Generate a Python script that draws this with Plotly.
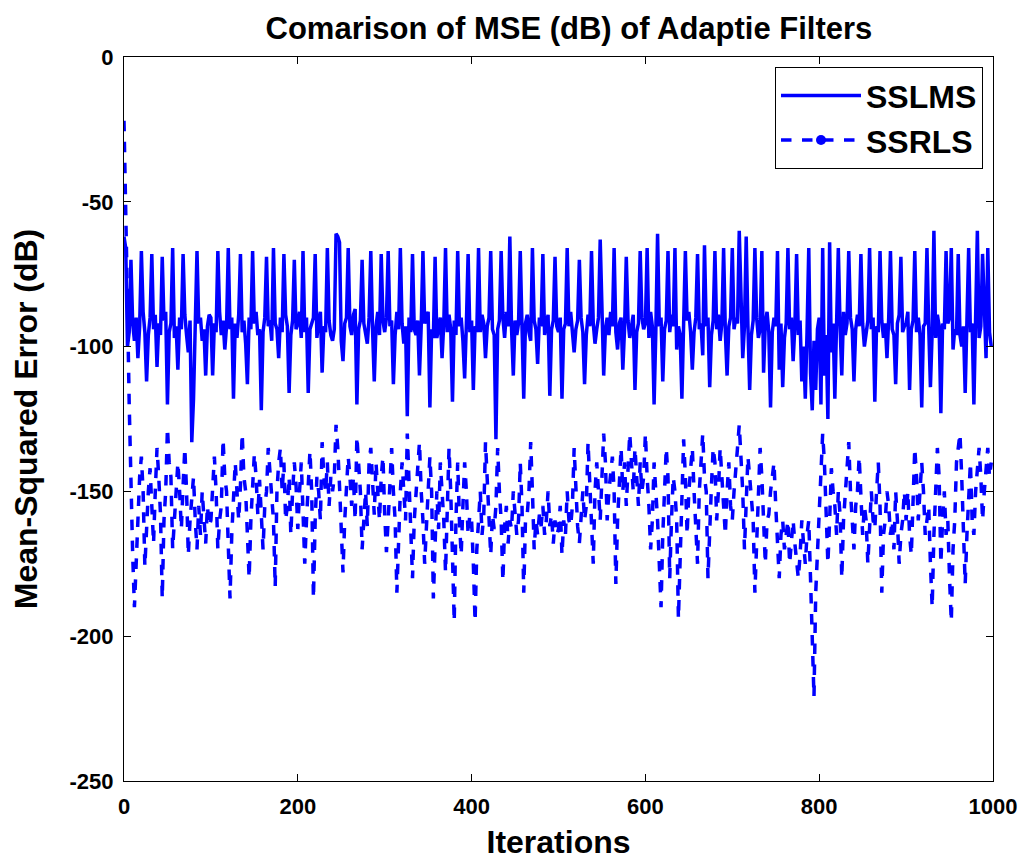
import plotly.graph_objects as go

iterations = list(range(0, 1000, 2))

sslms_db = [
    -62, -66, -100, -95, -70, -92, -98, -90, -104, -93, -67, -88, -95, -112, -96, -90, -68, -94, -89, -107, -92, -96, -69, -91, -88, -120, -95, -92, -66, -97, -93, -108, -90, -94, -68, -89, -96, -102, -91, -133, -118, -95, -67, -92, -90, -98, -94, -110, -93, -89,
    -90, -110, -92, -95, -67, -88, -96, -91, -101, -93, -66, -94, -90, -118, -92, -97, -89, -68, -95, -91, -99, -113, -90, -94, -67, -92, -88, -96, -94, -122, -95, -90, -69, -93, -91, -98, -66, -92, -94, -104, -90, -95, -68, -89, -93, -116, -96, -91, -70, -94,
    -92, -88, -97, -67, -95, -90, -116, -94, -92, -90, -68, -97, -91, -88, -109, -93, -95, -66, -91, -96, -98, -94, -61, -62, -64, -98, -105, -92, -90, -66, -93, -96, -89, -87, -120, -94, -91, -70, -92, -95, -99, -90, -67, -94, -112, -93, -88, -96, -68, -91,
    -95, -90, -67, -93, -91, -113, -96, -88, -94, -66, -92, -99, -93, -124, -90, -95, -68, -94, -96, -91, -110, -93, -67, -92, -90, -88, -121, -94, -97, -69, -97, -93, -90, -104, -92, -66, -95, -89, -94, -119, -91, -96, -67, -93, -90, -98, -111, -92, -68, -95,
    -91, -115, -93, -95, -66, -95, -89, -92, -104, -93, -90, -67, -94, -96, -132, -94, -91, -67, -90, -97, -88, -93, -62, -94, -110, -91, -96, -92, -67, -93, -118, -92, -89, -95, -98, -66, -91, -94, -106, -90, -93, -68, -96, -92, -89, -117, -94, -91, -69, -93,
    -95, -90, -118, -94, -92, -66, -93, -88, -96, -102, -94, -91, -70, -90, -95, -113, -96, -89, -93, -67, -92, -99, -94, -90, -63, -91, -110, -94, -90, -96, -88, -93, -66, -95, -101, -92, -90, -108, -94, -69, -91, -97, -93, -89, -115, -95, -92, -67, -90, -94,
    -92, -66, -97, -88, -93, -120, -95, -61, -93, -90, -112, -94, -91, -67, -95, -89, -93, -66, -101, -93, -96, -118, -92, -67, -91, -88, -95, -108, -95, -90, -68, -94, -92, -103, -65, -93, -90, -114, -96, -91, -67, -94, -89, -98, -92, -66, -95, -110, -93, -90,
    -66, -94, -90, -92, -60, -89, -104, -93, -62, -93, -115, -96, -91, -66, -90, -97, -94, -67, -109, -92, -88, -95, -121, -95, -90, -93, -67, -108, -92, -114, -97, -92, -66, -94, -90, -105, -93, -68, -96, -91, -112, -100, -118, -95, -66, -109, -122, -98, -115, -94,
    -90, -120, -66, -110, -96, -125, -64, -102, -92, -118, -95, -66, -93, -110, -88, -96, -92, -67, -90, -94, -112, -94, -89, -93, -68, -92, -100, -96, -91, -66, -94, -90, -119, -93, -95, -67, -91, -97, -92, -104, -90, -67, -94, -96, -113, -92, -89, -69, -95, -93,
    -92, -88, -115, -94, -91, -67, -95, -90, -96, -121, -93, -92, -66, -93, -114, -95, -60, -97, -89, -93, -123, -92, -94, -67, -92, -90, -66, -101, -94, -96, -68, -96, -100, -93, -116, -91, -66, -95, -92, -120, -94, -60, -97, -93, -68, -90, -104, -66, -95, -100,
]

ssrls_db = [
    -22, -50, -85, -120, -150, -172, -190, -175, -160, -145, -138, -150, -176, -160, -150, -142, -155, -168, -150, -135, -145, -158, -187, -160, -150, -128, -140, -145, -170, -160, -155, -140, -150, -163, -148, -135, -150, -172, -160, -150, -145, -160, -170, -155, -165, -150, -160, -168, -155, -162,
    -160, -147, -138, -150, -170, -160, -155, -132, -145, -150, -167, -187, -165, -155, -140, -150, -160, -148, -130, -145, -150, -165, -180, -160, -150, -137, -145, -158, -146, -160, -170, -155, -150, -135, -145, -152, -160, -183, -150, -140, -135, -150, -140, -160, -155, -145, -165, -150, -140, -148,
    -163, -150, -140, -157, -175, -160, -150, -136, -150, -187, -160, -145, -150, -160, -133, -145, -150, -140, -155, -145, -150, -145, -127, -135, -148, -165, -178, -160, -150, -138, -145, -155, -145, -160, -131, -140, -150, -170, -160, -150, -162, -140, -135, -150, -158, -140, -150, -160, -145, -138,
    -158, -171, -160, -150, -135, -150, -160, -185, -165, -150, -140, -152, -160, -130, -145, -165, -180, -160, -150, -145, -133, -150, -160, -175, -160, -150, -138, -150, -187, -165, -150, -163, -140, -150, -160, -178, -150, -135, -150, -175, -195, -160, -140, -160, -172, -155, -140, -150, -165, -158,
    -160, -175, -195, -170, -160, -150, -165, -158, -133, -145, -160, -172, -158, -163, -155, -135, -150, -160, -181, -162, -155, -168, -160, -163, -150, -158, -165, -160, -140, -155, -185, -160, -158, -150, -133, -150, -170, -160, -165, -158, -162, -155, -165, -160, -150, -162, -158, -168, -160, -165,
    -163, -155, -172, -160, -165, -150, -160, -162, -155, -135, -150, -162, -168, -158, -150, -160, -155, -133, -145, -160, -175, -150, -140, -150, -160, -145, -130, -140, -160, -150, -145, -138, -150, -182, -160, -145, -135, -150, -140, -155, -145, -130, -140, -150, -135, -145, -155, -140, -150, -145,
    -130, -145, -155, -170, -160, -140, -150, -160, -175, -190, -165, -150, -135, -145, -180, -160, -145, -150, -160, -194, -170, -150, -132, -145, -165, -150, -140, -135, -150, -160, -175, -150, -140, -130, -145, -150, -180, -160, -148, -135, -140, -160, -150, -135, -145, -150, -165, -150, -140, -155,
    -160, -150, -140, -135, -127, -140, -150, -170, -155, -138, -145, -155, -160, -185, -165, -148, -135, -145, -165, -175, -160, -158, -150, -145, -140, -155, -165, -180, -165, -160, -170, -165, -160, -175, -165, -160, -168, -175, -180, -172, -160, -168, -175, -165, -160, -180, -200, -221, -185, -172,
    -160, -145, -130, -140, -160, -175, -160, -142, -150, -155, -165, -150, -158, -180, -160, -152, -140, -133, -150, -160, -170, -155, -150, -138, -150, -165, -155, -160, -175, -160, -150, -160, -163, -150, -140, -155, -185, -165, -160, -150, -155, -165, -160, -170, -150, -160, -175, -165, -160, -150,
    -160, -150, -165, -172, -150, -135, -145, -160, -150, -140, -150, -165, -160, -155, -175, -190, -165, -150, -135, -145, -175, -160, -150, -165, -160, -180, -195, -170, -160, -140, -135, -130, -145, -160, -182, -165, -150, -140, -160, -165, -150, -140, -135, -145, -160, -150, -140, -135, -145, -140,
]

x_ticks = [0, 200, 400, 600, 800, 1000]
x_tick_labels = ["0", "200", "400", "600", "800", "1000"]
y_ticks = [0, -50, -100, -150, -200, -250]
y_tick_labels = ["0", "-50", "-100", "-150", "-200", "-250"]

FONT = "Liberation Sans, Arial, sans-serif"
BLUE = "#0000FF"

fig = go.Figure()
fig.add_trace(go.Scatter(
    x=iterations[:len(sslms_db)], y=sslms_db, mode="lines", name="SSLMS",
    line=dict(color=BLUE, width=3.5),
))
fig.add_trace(go.Scatter(
    x=iterations[:len(ssrls_db)], y=ssrls_db, mode="lines", name="SSRLS",
    line=dict(color=BLUE, width=3.5, dash="dash"),
    legendgroup="ssrls", showlegend=False,
))
# legend sample for SSRLS (dashed line with dot marker), no data drawn
fig.add_trace(go.Scatter(
    x=[None], y=[None], mode="lines+markers", name="SSRLS",
    line=dict(color=BLUE, width=3.5, dash="dash"),
    marker=dict(color=BLUE, size=10),
    legendgroup="ssrls",
))

axis_common = dict(
    showline=True, linecolor="black", linewidth=1, mirror="ticks",
    ticks="inside", ticklen=7, tickcolor="black", showgrid=False, zeroline=False,
    automargin=False,
    tickfont=dict(family=FONT, size=22, color="black", weight="bold"),
)

# page body has an 8px margin, so the figure is sized/offset to compensate
fig.update_layout(
    width=1021, height=853,
    paper_bgcolor="white", plot_bgcolor="white",
    margin=dict(l=116, r=36, t=49, b=80),
    title=dict(text="Comarison of MSE (dB) of Adaptie Filters",
               xref="paper", x=0.512, xanchor="center",
               yref="container", y=1 - 20 / 853, yanchor="middle",
               font=dict(family=FONT, size=31, color="black", weight="bold")),
    xaxis=dict(range=[0, 1000], tickvals=x_ticks, ticktext=x_tick_labels,
               ticklabelstandoff=6,
               title=dict(text="Iterations", standoff=12,
                          font=dict(family=FONT, size=32, color="black", weight="bold")),
               **axis_common),
    yaxis=dict(range=[-250, 0], tickvals=y_ticks, ticktext=y_tick_labels,
               ticklabelstandoff=5,
               title=dict(text="Mean-Squared Error (dB)", standoff=22,
                          font=dict(family=FONT, size=32, color="black", weight="bold")),
               **axis_common),
    legend=dict(x=0.9885, y=0.986, xanchor="right", yanchor="top",
                bgcolor="white", bordercolor="black", borderwidth=1,
                font=dict(family=FONT, size=32, color="black", weight="bold"),
                itemwidth=80, tracegroupgap=0),
    showlegend=True,
)

fig.write_html("out.html")
